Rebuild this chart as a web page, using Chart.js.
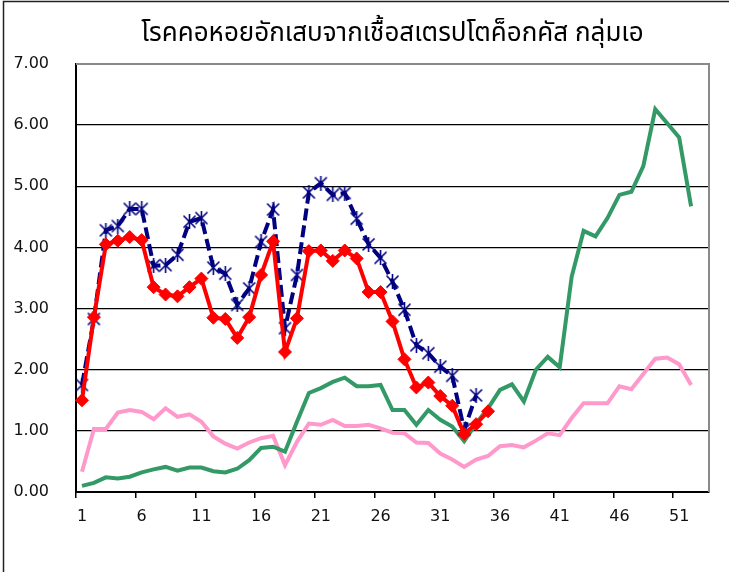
<!DOCTYPE html>
<html>
<head>
<meta charset="utf-8">
<script src="https://cdn.jsdelivr.net/npm/chart.js@4/dist/chart.umd.min.js"></script>
<style>
  html, body { margin: 0; padding: 0; background: #fff; }
  #wrap { position: relative; width: 729px; height: 572px; }
</style>
</head>
<body>
<div id="wrap"><canvas id="c" width="729" height="572"></canvas></div>
<script>
const titleText = 'โรคคอหอยอักเสบจากเชื้อสเตรปโตค็อกคัส กลุ่มเอ';
const weeks = Array.from({length: 53}, (_, i) => String(i + 1));
const yTicks = [0, 1, 2, 3, 4, 5, 6, 7];

const seriesNavy = [1.75, 2.83, 4.28, 4.35, 4.63, 4.63, 3.70, 3.71, 3.88, 4.42,
  4.48, 3.67, 3.57, 3.06, 3.33, 4.09, 4.62, 2.68, 3.55, 4.90,
  5.05, 4.86, 4.89, 4.47, 4.05, 3.83, 3.44, 2.98, 2.40, 2.27,
  2.05, 1.90, 1.02, 1.58];
const seriesRed = [1.50, 2.86, 4.05, 4.11, 4.17, 4.12, 3.35, 3.23, 3.20, 3.35,
  3.49, 2.85, 2.83, 2.52, 2.86, 3.55, 4.10, 2.29, 2.84, 3.94,
  3.95, 3.78, 3.95, 3.82, 3.27, 3.27, 2.79, 2.17, 1.71, 1.79,
  1.57, 1.41, 0.95, 1.11, 1.32];
const seriesGreen = [0.10, 0.15, 0.24, 0.22, 0.25, 0.32, 0.37, 0.41, 0.35, 0.40,
  0.40, 0.34, 0.32, 0.38, 0.52, 0.72, 0.74, 0.66, 1.15, 1.62,
  1.70, 1.80, 1.87, 1.73, 1.73, 1.75, 1.34, 1.34, 1.10, 1.34,
  1.18, 1.07, 0.83, 1.12, 1.37, 1.67, 1.76, 1.48, 2.00, 2.21,
  2.04, 3.52, 4.27, 4.18, 4.48, 4.86, 4.91, 5.33, 6.26, 6.03,
  5.80, 4.67];
const seriesPink = [0.33, 1.03, 1.03, 1.30, 1.34, 1.31, 1.19, 1.37, 1.23, 1.27,
  1.15, 0.91, 0.79, 0.71, 0.81, 0.88, 0.92, 0.44, 0.82, 1.12,
  1.10, 1.18, 1.08, 1.08, 1.10, 1.04, 0.97, 0.96, 0.81, 0.80,
  0.63, 0.53, 0.41, 0.53, 0.59, 0.75, 0.77, 0.73, 0.84, 0.96,
  0.93, 1.21, 1.45, 1.45, 1.45, 1.73, 1.68, 1.93, 2.18, 2.20,
  2.09, 1.75];

// star (asterisk) marker like Excel
const star = document.createElement('canvas');
star.width = 15; star.height = 15;
(function () {
  const g = star.getContext('2d');
  g.strokeStyle = '#000080';
  g.lineWidth = 1.6;
  g.beginPath();
  g.moveTo(1.5, 1.5); g.lineTo(13.5, 13.5);
  g.moveTo(13.5, 1.5); g.lineTo(1.5, 13.5);
  g.moveTo(7.5, 0); g.lineTo(7.5, 15);
  g.stroke();
})();

const frame = {
  id: 'frame',
  beforeDraw(chart) {
    const c = chart.ctx;
    c.save();
    c.fillStyle = '#fff';
    c.fillRect(0, 0, chart.width, chart.height);
    c.strokeStyle = '#222';
    c.lineWidth = 1.5;
    c.beginPath();
    c.moveTo(3.5, chart.height); c.lineTo(3.5, 1.5); c.lineTo(chart.width, 1.5);
    c.stroke();
    c.restore();
  },
  afterDraw(chart) {
    const a = chart.chartArea, c = chart.ctx;
    c.save();
    c.strokeStyle = '#8a8a8a';
    c.lineWidth = 2;
    c.beginPath();
    c.moveTo(a.left, a.top); c.lineTo(a.right, a.top); c.lineTo(a.right, a.bottom);
    c.stroke();
    c.restore();
  }
};

new Chart(document.getElementById('c'), {
  type: 'line',
  data: {
    labels: weeks,
    datasets: [
      { data: seriesRed, borderColor: '#FF0000', backgroundColor: '#FF0000', borderWidth: 4,
        pointStyle: 'rectRot', pointRadius: 6.5, pointBorderWidth: 1, tension: 0 },
      { data: seriesNavy, borderColor: '#000080', backgroundColor: '#000080', borderWidth: 4,
        borderDash: [12, 5], pointStyle: star, pointRadius: 7, tension: 0 },
      { data: seriesGreen, borderColor: '#339966', borderWidth: 4, pointRadius: 0, tension: 0 },
      { data: seriesPink, borderColor: '#FF99CC', borderWidth: 4, pointRadius: 0, tension: 0 }
    ]
  },
  options: {
    responsive: false,
    animation: false,
    events: [],
    layout: { padding: { left: 4, right: 20, top: 0, bottom: 0 } },
    plugins: {
      legend: { display: false },
      tooltip: { enabled: false },
      title: {
        display: true,
        text: titleText,
        fullSize: false,
        color: '#000',
        font: { family: "'Noto Sans Thai', 'Noto Sans', 'DejaVu Sans', sans-serif", size: 26, weight: 'normal', lineHeight: '30px' },
        padding: { top: 21, bottom: 13 }
      }
    },
    scales: {
      x: {
        type: 'category',
        offset: true,
        afterFit(s) { s.height = 80; },
        grid: {
          offset: true,
          drawOnChartArea: false,
          drawTicks: true,
          tickLength: 6,
          lineWidth: 1.5,
          color: (ctx) => (ctx.index % 5 === 0 ? '#000' : 'rgba(0,0,0,0)')
        },
        border: { display: true, color: '#000', width: 2 },
        ticks: {
          autoSkip: false,
          maxRotation: 0,
          padding: 9,
          color: '#111',
          font: { family: "'DejaVu Sans', sans-serif", size: 16 },
          callback: (v, i) => (i % 5 === 0 ? weeks[i] : '')
        }
      },
      y: {
        min: 0,
        max: 7,
        afterFit(s) { s.width = 72; },
        afterBuildTicks(s) { s.ticks = yTicks.map(v => ({ value: v })); },
        grid: {
          drawTicks: false,
          lineWidth: 1.3,
          color: (ctx) => (ctx.tick && ctx.tick.value === 7 ? '#8a8a8a' : '#000')
        },
        border: { display: true, color: '#000', width: 2 },
        ticks: {
          padding: 27,
          color: '#111',
          font: { family: "'DejaVu Sans', sans-serif", size: 16 },
          callback: (v) => Number(v).toFixed(2)
        }
      }
    }
  },
  plugins: [frame]
});
</script>
</body>
</html>
